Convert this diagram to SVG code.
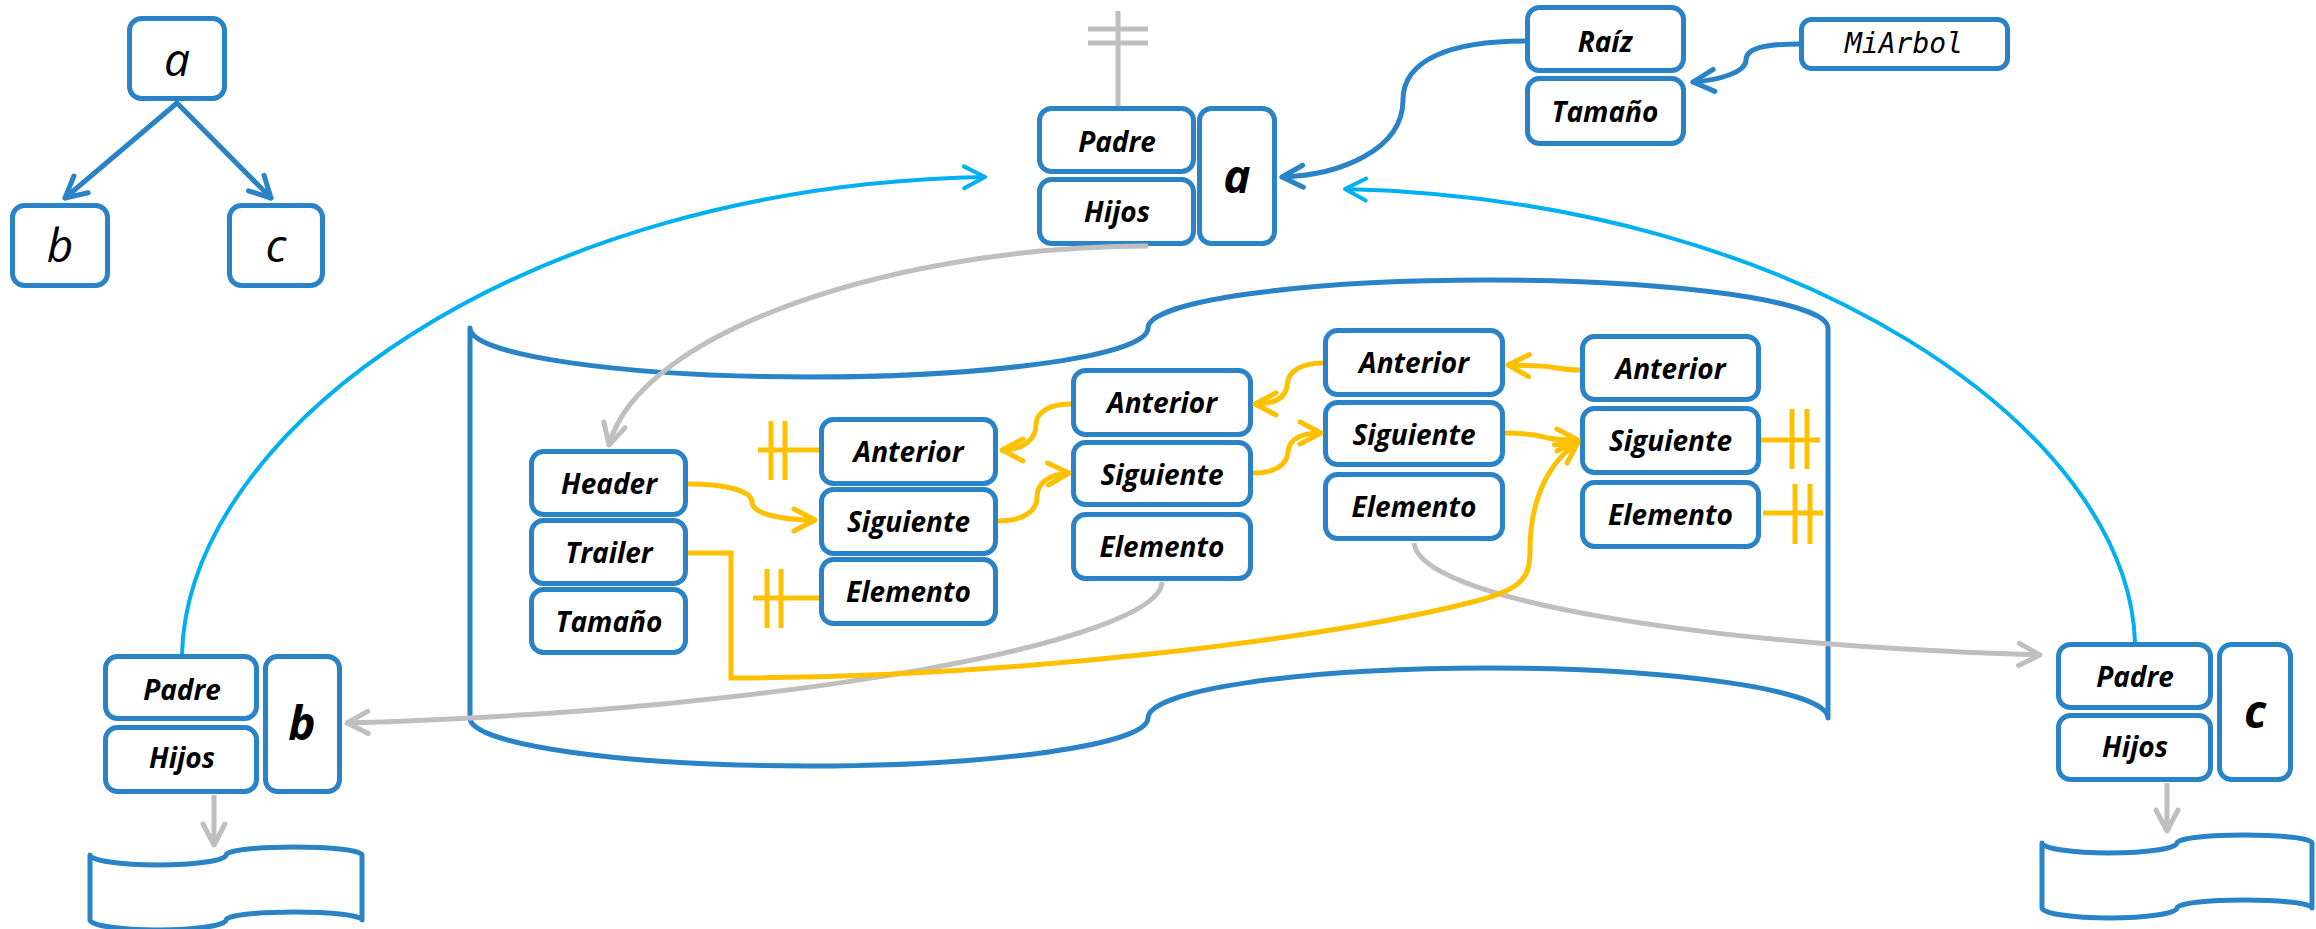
<svg xmlns="http://www.w3.org/2000/svg" width="2316" height="929" viewBox="0 0 2316 929">
  <defs>
    <style>
      .box{fill:#fff;stroke:#2a83c6;stroke-width:5}
      .lbl{font-family:"Open Sans","Noto Sans","Liberation Sans",sans-serif;font-weight:bold;font-style:italic;font-size:28px;text-anchor:middle;fill:#000}
      .big{font-family:"Open Sans","Noto Sans","Liberation Sans",sans-serif;font-weight:bold;font-style:italic;font-size:46px;text-anchor:middle;fill:#000}
      .tree{font-family:"Open Sans","Noto Sans","Liberation Sans",sans-serif;font-style:italic;font-size:46px;text-anchor:middle;fill:#000}
      .mono{font-family:"DejaVu Sans Mono","Liberation Mono",monospace;font-style:italic;font-size:28px;text-anchor:middle;fill:#000}
      .tape{fill:none;stroke:#2a83c6;stroke-width:5;stroke-linejoin:round}
      .c-blue{fill:none;stroke:#2a83c6;stroke-width:5;stroke-linecap:round}
      .c-grey{fill:none;stroke:#bfbfbf;stroke-width:5}
      .c-yel{fill:none;stroke:#ffc000;stroke-width:5}
      .c-cyan{fill:none;stroke:#00b0f0;stroke-width:4}
    </style>
    <marker id="ah-blue" markerUnits="userSpaceOnUse" viewBox="-26 -16 30 32" refX="0" refY="0" markerWidth="30" markerHeight="32" orient="auto">
      <path d="M-21,-11 L0,0 L-21,11" fill="none" stroke="#2a83c6" stroke-width="5" stroke-linecap="round" stroke-linejoin="round"/>
    </marker>
    <marker id="ah-grey" markerUnits="userSpaceOnUse" viewBox="-26 -16 30 32" refX="0" refY="0" markerWidth="30" markerHeight="32" orient="auto">
      <path d="M-21,-11 L0,0 L-21,11" fill="none" stroke="#bfbfbf" stroke-width="5" stroke-linecap="round" stroke-linejoin="round"/>
    </marker>
    <marker id="ah-yel" markerUnits="userSpaceOnUse" viewBox="-26 -16 30 32" refX="0" refY="0" markerWidth="30" markerHeight="32" orient="auto">
      <path d="M-21,-11 L0,0 L-21,11" fill="none" stroke="#ffc000" stroke-width="5" stroke-linecap="round" stroke-linejoin="round"/>
    </marker>
    <marker id="ah-cyan" markerUnits="userSpaceOnUse" viewBox="-26 -16 30 32" refX="0" refY="0" markerWidth="30" markerHeight="32" orient="auto">
      <path d="M-21,-11 L0,0 L-21,11" fill="none" stroke="#00b0f0" stroke-width="4" stroke-linecap="round" stroke-linejoin="round"/>
    </marker>
  </defs>

  <!-- list containers (punched-tape outlines) -->
  <g id="children-list-a">
    <path class="tape" d="M470,718 V328 A339,49 0 0 0 1148,328 A340,48 0 0 1 1828,328 V718 A340,50 0 0 0 1148,718 A339,48 0 0 1 470,718 Z"/>
  </g>
  <g id="children-list-b">
    <path class="tape" d="M90,920 V855 A68,10 0 0 0 226,855 A68,8 0 0 1 362,855 V920 A68,8 0 0 0 226,920 A68,10 0 0 1 90,920 Z"/>
  </g>
  <g id="children-list-c">
    <path class="tape" d="M2042,908 V843 A67.5,10 0 0 0 2177,843 A67.5,8 0 0 1 2312,843 V908 A67.5,8 0 0 0 2177,908 A67.5,10 0 0 1 2042,908 Z"/>
  </g>

  <!-- small tree -->
  <g id="tree-a">
    <rect class="box" x="129.5" y="18.5" width="95" height="80" rx="12"/>
    <text class="tree" x="177" y="76">a</text>
  </g>
  <g id="tree-b">
    <rect class="box" x="12.5" y="205.5" width="95" height="80" rx="12"/>
    <text class="tree" x="60" y="262">b</text>
  </g>
  <g id="tree-c">
    <rect class="box" x="229.5" y="205.5" width="93" height="80" rx="12"/>
    <text class="tree" x="276" y="262">c</text>
  </g>

  <!-- tree object -->
  <g id="mi-arbol">
    <rect class="box" x="1801.5" y="19.5" width="206" height="49" rx="10"/>
    <text class="mono" x="1904" y="53">MiArbol</text>
  </g>
  <g id="arbol">
    <rect class="box" x="1527.5" y="7.5" width="156" height="63" rx="12"/>
    <text class="lbl" x="1605" y="52">Raíz</text>
    <rect class="box" x="1527.5" y="78.5" width="156" height="65" rx="12"/>
    <text class="lbl" x="1605" y="122">Tamaño</text>
  </g>

  <!-- tree nodes -->
  <g id="node-a">
    <rect class="box" x="1039.5" y="108.5" width="154" height="63" rx="12"/>
    <text class="lbl" x="1117" y="152">Padre</text>
    <rect class="box" x="1039.5" y="179.5" width="154" height="64" rx="12"/>
    <text class="lbl" x="1117" y="222">Hijos</text>
    <rect class="box" x="1199.5" y="108.5" width="75" height="135" rx="12"/>
    <text class="big" x="1237" y="193">a</text>
  </g>
  <g id="node-b">
    <rect class="box" x="105.5" y="656.5" width="151" height="62" rx="12"/>
    <text class="lbl" x="182" y="700">Padre</text>
    <rect class="box" x="105.5" y="727.5" width="151" height="64" rx="12"/>
    <text class="lbl" x="182" y="768">Hijos</text>
    <rect class="box" x="265.5" y="656.5" width="74" height="135" rx="12"/>
    <text class="big" x="302" y="740">b</text>
  </g>
  <g id="node-c">
    <rect class="box" x="2058.5" y="644.5" width="152" height="63" rx="12"/>
    <text class="lbl" x="2135" y="687">Padre</text>
    <rect class="box" x="2058.5" y="715.5" width="152" height="64" rx="12"/>
    <text class="lbl" x="2135" y="757">Hijos</text>
    <rect class="box" x="2219.5" y="644.5" width="71" height="135" rx="12"/>
    <text class="big" x="2255" y="728">c</text>
  </g>

  <!-- linked list: header record and nodes -->
  <g id="list-header">
    <rect class="box" x="531.5" y="451.5" width="154" height="63" rx="12"/>
    <text class="lbl" x="609" y="494">Header</text>
    <rect class="box" x="531.5" y="520.5" width="154" height="63" rx="12"/>
    <text class="lbl" x="609" y="563">Trailer</text>
    <rect class="box" x="531.5" y="589.5" width="154" height="63" rx="12"/>
    <text class="lbl" x="609" y="632">Tamaño</text>
  </g>
  <g id="list-node-1">
    <rect class="box" x="821.5" y="419.5" width="174" height="64" rx="12"/>
    <text class="lbl" x="908.5" y="462">Anterior</text>
    <rect class="box" x="821.5" y="489.5" width="174" height="64" rx="12"/>
    <text class="lbl" x="908.5" y="532">Siguiente</text>
    <rect class="box" x="821.5" y="559.5" width="174" height="64" rx="12"/>
    <text class="lbl" x="908.5" y="602">Elemento</text>
  </g>
  <g id="list-node-2">
    <rect class="box" x="1073.5" y="370.5" width="177" height="64" rx="12"/>
    <text class="lbl" x="1162" y="413">Anterior</text>
    <rect class="box" x="1073.5" y="442.5" width="177" height="62" rx="12"/>
    <text class="lbl" x="1162" y="485">Siguiente</text>
    <rect class="box" x="1073.5" y="514.5" width="177" height="64" rx="12"/>
    <text class="lbl" x="1162" y="557">Elemento</text>
  </g>
  <g id="list-node-3">
    <rect class="box" x="1325.5" y="330.5" width="177" height="64" rx="12"/>
    <text class="lbl" x="1414" y="373">Anterior</text>
    <rect class="box" x="1325.5" y="402.5" width="177" height="62" rx="12"/>
    <text class="lbl" x="1414" y="445">Siguiente</text>
    <rect class="box" x="1325.5" y="474.5" width="177" height="64" rx="12"/>
    <text class="lbl" x="1414" y="517">Elemento</text>
  </g>
  <g id="list-node-4">
    <rect class="box" x="1582.5" y="336.5" width="176" height="63" rx="12"/>
    <text class="lbl" x="1670.5" y="379">Anterior</text>
    <rect class="box" x="1582.5" y="408.5" width="176" height="64" rx="12"/>
    <text class="lbl" x="1670.5" y="451">Siguiente</text>
    <rect class="box" x="1582.5" y="482.5" width="176" height="64" rx="12"/>
    <text class="lbl" x="1670.5" y="525">Elemento</text>
  </g>

  <!-- connectors -->
  <g id="connectors">
    <!-- small tree edges -->
    <path class="c-blue" d="M177,103 L65,198" marker-end="url(#ah-blue)"/>
    <path class="c-blue" d="M177,103 L271,198" marker-end="url(#ah-blue)"/>
    <!-- object references -->
    <path class="c-blue" d="M1525,41 C1450,41 1403,60 1403,100 C1403,150 1340,175 1282,177" marker-end="url(#ah-blue)"/>
    <path class="c-blue" d="M1799,44 C1760,44 1746,50 1746,60 C1746,72 1720,80 1693,82" marker-end="url(#ah-blue)"/>

    <!-- parent of the root: null -->
    <path class="c-grey" d="M1118,11 V106 M1088,29 H1148 M1088,43 H1148"/>
    <!-- children lists and elements -->
    <path class="c-grey" d="M1148,246 C900,246 640,330 609,445" marker-end="url(#ah-grey)"/>
    <path class="c-grey" d="M1162,582 C1160,640 800,710 347,723" marker-end="url(#ah-grey)"/>
    <path class="c-grey" d="M1414,543 C1420,600 1700,645 2040,655" marker-end="url(#ah-grey)"/>
    <path class="c-grey" d="M214,795 V845" marker-end="url(#ah-grey)"/>
    <path class="c-grey" d="M2167,783 V831" marker-end="url(#ah-grey)"/>

    <!-- list links -->
    <path class="c-yel" d="M688,484 C730,484 752,492 752,502 C752,514 782,520 815,520" marker-end="url(#ah-yel)"/>
    <path class="c-yel" d="M998,521 C1025,521 1037,510 1037,497 C1037,484 1048,474 1069,473" marker-end="url(#ah-yel)"/>
    <path class="c-yel" d="M1071,404 C1050,404 1036,412 1036,425 C1036,440 1022,450 1002,450" marker-end="url(#ah-yel)"/>
    <path class="c-yel" d="M1253,473 C1275,473 1287,465 1288,452 C1289,440 1300,433 1321,433" marker-end="url(#ah-yel)"/>
    <path class="c-yel" d="M1323,363 C1300,363 1288,372 1287,385 C1286,398 1275,404 1255,404" marker-end="url(#ah-yel)"/>
    <path class="c-yel" d="M1580,370 C1560,370 1550,366 1540,366 L1508,365" marker-end="url(#ah-yel)"/>
    <path class="c-yel" d="M1505,433 C1530,433 1540,436 1548,438 C1556,440 1565,440 1578,440" marker-end="url(#ah-yel)"/>
    <path class="c-yel" d="M688,553 H731 V678 C1000,678 1330,640 1480,600 C1525,588 1530,575 1530,550 C1530,505 1545,465 1578,442" marker-end="url(#ah-yel)"/>
    <!-- null links -->
    <path class="c-yel" d="M758,450 H819 M771,421 V480 M785,421 V480"/>
    <path class="c-yel" d="M753,598 H819 M767,569 V628 M781,569 V628"/>
    <path class="c-yel" d="M1761,440 H1820 M1792,409 V469 M1807,409 V469"/>
    <path class="c-yel" d="M1763,513 H1823 M1795,484 V544 M1810,484 V544"/>

    <!-- parent links -->
    <path class="c-cyan" d="M182,654 C188,430 520,185 985,177" marker-end="url(#ah-cyan)"/>
    <path class="c-cyan" d="M2135,642 C2128,430 1800,200 1345,189" marker-end="url(#ah-cyan)"/>
  </g>
</svg>
